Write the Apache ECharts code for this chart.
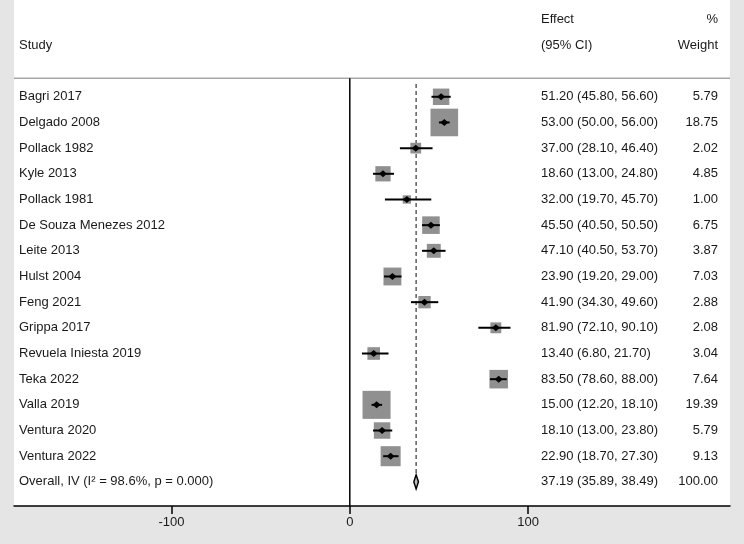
<!DOCTYPE html>
<html>
<head>
<meta charset="utf-8">
<script src="https://cdn.jsdelivr.net/npm/echarts@6/dist/echarts.min.js"></script>
<style>
html,body{margin:0;padding:0;background:#e5e5e5;}
#c{width:744px;height:544px;}
</style>
</head>
<body>
<div id="c"></div>
<script>
// ---- data ----
const studies = ["Bagri 2017","Delgado 2008","Pollack 1982","Kyle 2013","Pollack 1981","De Souza Menezes 2012","Leite 2013","Hulst 2004","Feng 2021","Grippa 2017","Revuela Iniesta 2019","Teka 2022","Valla 2019","Ventura 2020","Ventura 2022"];
const effects = [51.20,53.00,37.00,18.60,32.00,45.50,47.10,23.90,41.90,81.90,13.40,83.50,15.00,18.10,22.90];
const lowers  = [45.80,50.00,28.10,13.00,19.70,40.50,40.50,19.20,34.30,72.10,6.80,78.60,12.20,13.00,18.70];
const uppers  = [56.60,56.00,46.40,24.80,45.70,50.50,53.70,29.00,49.60,90.10,21.70,88.00,18.10,23.80,27.30];
const weights = [5.79,18.75,2.02,4.85,1.00,6.75,3.87,7.03,2.88,2.08,3.04,7.64,19.39,5.79,9.13];
const overallLabel = "Overall, IV (I\u00B2 = 98.6%, p = 0.000)";
const overallEffect = 37.19, overallLower = 35.89, overallUpper = 38.49, overallWeight = 100.00;
const tickValues = [-100, 0, 100];

// ---- layout constants ----
const X_MIN = -188.3, X_MAX = 213.2;
const Y_MIN = -2.77, Y_MAX = 16.94;
const COL_STUDY = -185.5, COL_EFFECT = 107.2, COL_WEIGHT = 206.5;
const ROW_HEAD1 = -2, ROW_HEAD2 = -1, ROW_SEP = 0.28;
const overallRow = studies.length + 1;
const FONT = 'Liberation Sans, Arial, Helvetica, sans-serif';
const TXT = '#1a1a1a';

const fmt = v => v.toFixed(2);

// text cells
const texts = [];
texts.push({x: COL_EFFECT, row: ROW_HEAD1, t: 'Effect', a: 'left'});
texts.push({x: COL_WEIGHT, row: ROW_HEAD1, t: '%', a: 'right'});
texts.push({x: COL_STUDY, row: ROW_HEAD2, t: 'Study', a: 'left'});
texts.push({x: COL_EFFECT, row: ROW_HEAD2, t: '(95% CI)', a: 'left'});
texts.push({x: COL_WEIGHT, row: ROW_HEAD2, t: 'Weight', a: 'right'});
studies.forEach((s, i) => {
  texts.push({x: COL_STUDY, row: i + 1, t: s, a: 'left'});
  texts.push({x: COL_EFFECT, row: i + 1, t: fmt(effects[i]) + ' (' + fmt(lowers[i]) + ', ' + fmt(uppers[i]) + ')', a: 'left'});
  texts.push({x: COL_WEIGHT, row: i + 1, t: fmt(weights[i]), a: 'right'});
});
texts.push({x: COL_STUDY, row: overallRow, t: overallLabel, a: 'left'});
texts.push({x: COL_EFFECT, row: overallRow, t: fmt(overallEffect) + ' (' + fmt(overallLower) + ', ' + fmt(overallUpper) + ')', a: 'left'});
texts.push({x: COL_WEIGHT, row: overallRow, t: fmt(overallWeight), a: 'right'});

const studyData = studies.map((s, i) => [effects[i], i + 1, lowers[i], uppers[i], weights[i]]);

const chart = echarts.init(document.getElementById('c'), null, {renderer: 'canvas'});
chart.setOption({
  backgroundColor: '#e5e5e5',
  animation: false,
  grid: {left: 14, top: 0, width: 716, height: 506, show: true, backgroundColor: '#ffffff', borderWidth: 0, containLabel: false, outerBoundsMode: 'none'},
  xAxis: {
    type: 'value', min: X_MIN, max: X_MAX,
    axisLine: {show: true, onZero: false, lineStyle: {color: '#000', width: 1.5}},
    axisTick: {show: true, inside: false, length: 8, customValues: tickValues, lineStyle: {color: '#000', width: 1.5}},
    axisLabel: {show: true, customValues: tickValues, fontSize: 13, fontFamily: FONT, color: TXT, margin: 10},
    splitLine: {show: false}
  },
  yAxis: {type: 'value', min: Y_MIN, max: Y_MAX, inverse: true, show: false, splitLine: {show: false}},
  series: [
    { // reference lines
      type: 'custom', silent: true, clip: false,
      data: [[0, 0]],
      renderItem: function (params, api) {
        const sL = api.coord([X_MIN, ROW_SEP]), sR = api.coord([X_MAX, ROW_SEP]);
        const zT = api.coord([0, ROW_SEP]), zB = api.coord([0, Y_MAX]);
        const dT = api.coord([overallEffect, 0.5]), dB = api.coord([overallEffect, overallRow - 0.25]);
        return {type: 'group', children: [
          {type: 'line', shape: {x1: sL[0], y1: sL[1], x2: sR[0], y2: sR[1]}, style: {stroke: '#a8a8a8', lineWidth: 1.5}},
          {type: 'line', shape: {x1: zT[0], y1: zT[1], x2: zB[0], y2: zB[1]}, style: {stroke: '#000', lineWidth: 1.5}},
          {type: 'line', shape: {x1: dT[0], y1: dT[1], x2: dB[0], y2: dB[1]}, style: {stroke: '#444', lineWidth: 1.3, lineDash: [4, 3]}}
        ]};
      }
    },
    { // study boxes, CIs and point markers
      type: 'custom', silent: true, clip: false,
      data: studyData,
      renderItem: function (params, api) {
        const r = api.value(1);
        const c = api.coord([api.value(0), r]);
        const lo = api.coord([api.value(2), r]);
        const hi = api.coord([api.value(3), r]);
        const side = 2.5 + 5.8 * Math.sqrt(api.value(4));
        return {type: 'group', children: [
          {type: 'rect', shape: {x: c[0] - side / 2, y: c[1] - side / 2, width: side, height: side}, style: {fill: '#909090'}},
          {type: 'line', shape: {x1: lo[0], y1: lo[1], x2: hi[0], y2: hi[1]}, style: {stroke: '#000', lineWidth: 2}},
          {type: 'polygon', shape: {points: [[c[0] - 4, c[1]], [c[0], c[1] - 3.5], [c[0] + 4, c[1]], [c[0], c[1] + 3.5]]}, style: {fill: '#000'}}
        ]};
      }
    },
    { // overall diamond
      type: 'custom', silent: true, clip: false,
      data: [[overallEffect, overallRow, overallLower, overallUpper]],
      renderItem: function (params, api) {
        const r = api.value(1);
        const c = api.coord([api.value(0), r]);
        const lo = api.coord([api.value(2), r]);
        const hi = api.coord([api.value(3), r]);
        const h = 7;
        return {type: 'polygon', shape: {points: [[lo[0], c[1]], [c[0], c[1] - h], [hi[0], c[1]], [c[0], c[1] + h]]}, style: {fill: '#bdbdbd', stroke: '#000', lineWidth: 1.5}};
      }
    },
    { // text columns
      type: 'custom', silent: true, clip: false,
      data: texts.map(t => [t.x, t.row]),
      renderItem: function (params, api) {
        const t = texts[params.dataIndex];
        const p = api.coord([api.value(0), api.value(1)]);
        return {type: 'text', x: p[0], y: p[1], style: {text: t.t, fill: TXT, fontSize: 13, fontFamily: FONT, align: t.a, verticalAlign: 'middle'}};
      }
    }
  ]
});
</script>
</body>
</html>
